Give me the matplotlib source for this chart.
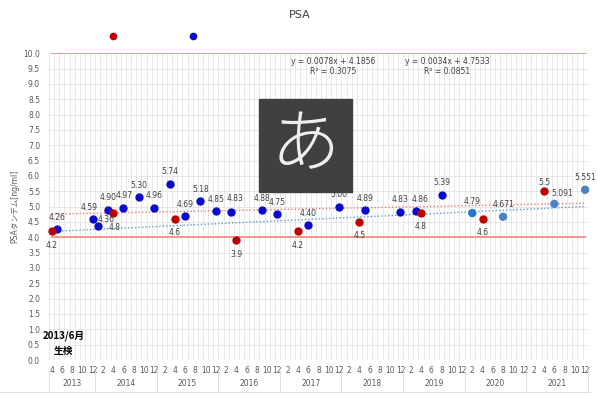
import matplotlib
matplotlib.use("Agg")
import matplotlib.pyplot as plt
import matplotlib.transforms as mtransforms
from matplotlib.patches import Rectangle

plt.rcParams['font.family'] = ['DejaVu Sans', 'Noto Sans CJK JP']

# category axis: one category per month, 2013/4 .. 2021/12
start_year, start_month = 2013, 4
years = list(range(2013, 2022))
n_months = 105

# PSA values (blue = PSA tandem, red = other lab, light blue = recent)
blue_dates = ["2013-05", "2013-12", "2014-01", "2014-03", "2014-06", "2014-09",
              "2014-12", "2015-03", "2015-06", "2015-09", "2015-12", "2016-03",
              "2016-09", "2016-12", "2017-06", "2017-12", "2018-05", "2018-12",
              "2019-03", "2019-08"]
blue_vals = [4.26, 4.59, 4.36, 4.90, 4.97, 5.30, 4.96, 5.74, 4.69, 5.18, 4.85,
             4.83, 4.88, 4.75, 4.40, 5.00, 4.89, 4.83, 4.86, 5.39]

light_dates = ["2020-02", "2020-08", "2021-06", "2021-12"]
light_vals = [4.79, 4.671, 5.091, 5.551]
light_labels = ["4.79", "4.671", "5.091", "5.551"]

red_dates = ["2013-04", "2014-04", "2015-04", "2016-04", "2017-04", "2018-04",
             "2019-04", "2020-04", "2021-04"]
red_vals = [4.2, 4.8, 4.6, 3.9, 4.2, 4.5, 4.8, 4.6, 5.5]

# trendlines as shown on the chart
blue_trend = (0.0078, 4.1856, 0.3075)
red_trend = (0.0034, 4.7533, 0.0851)
ref_lines = [10.0, 4.0]


def idx(d):
    y, m = d.split("-")
    return (int(y) - start_year) * 12 + int(m) - start_month


PX = 0.72  # pixels -> points at dpi 100
W, H = 598, 396

fig = plt.figure(figsize=(W / 100, H / 100), dpi=100)
ax = fig.add_axes([49.1 / W, 1 - 360 / H, 538.6 / W, 306.7 / H])
ax.set_xlim(-0.5, n_months - 0.5)
ax.set_ylim(0, 10)

grid_c = "#DEDEDE"
for i in range(n_months + 1):
    ax.axvline(i - 0.5, color=grid_c, lw=0.5, zorder=0)
for k in range(21):
    ax.axhline(k * 0.5, color=grid_c, lw=0.5, zorder=0)
for s in ax.spines.values():
    s.set_visible(False)

# reference lines at 4.0 and 10.0
for v in ref_lines:
    ax.plot([0, n_months - 1], [v, v], color="#F29690", lw=1.4, zorder=2)

# trendlines (x = category number, 1-based)
xs = [0, n_months - 1]
for (a, b, r2), c in [(blue_trend, "#5B9BD5"), (red_trend, "#F07A7A")]:
    ax.plot(xs, [a * (x + 1) + b for x in xs], color=c, lw=1.0,
            ls=(0, (1, 1.5)), zorder=2)

bx = [idx(d) for d in blue_dates]
rx = [idx(d) for d in red_dates]
lx = [idx(d) for d in light_dates]
ms = 25
ax.scatter(bx, blue_vals, s=ms, color="#0A0ACC", zorder=4, clip_on=False)
ax.scatter(rx, red_vals, s=ms, color="#C00000", zorder=4, clip_on=False)
ax.scatter(lx, light_vals, s=ms, color=["#1F7AD2", "#4C82C6", "#4C82C6", "#4C82C6"],
           zorder=4, clip_on=False)

lab_c = "#404040"
fs = 5.5
blue_off = {1: (-4, 12), 2: (8, 7), 4: (1, 12), 11: (4, 13), 18: (4, 11)}
for i, (x, v) in enumerate(zip(bx, blue_vals)):
    dx, dy = blue_off.get(i, (0, 12))
    ax.annotate(f"{v:.2f}", (x, v), xytext=(dx * PX, dy * PX), textcoords="offset points",
                ha="center", va="center", fontsize=fs, color=lab_c, zorder=5)
red_off = {1: (1, -15), 8: (0, 9)}
for i, (x, v) in enumerate(zip(rx, red_vals)):
    dx, dy = red_off.get(i, (0, -14))
    ax.annotate(f"{v:g}", (x, v), xytext=(dx * PX, dy * PX), textcoords="offset points",
                ha="center", va="center", fontsize=fs, color=lab_c, zorder=5)
for i, (x, v, t) in enumerate(zip(lx, light_vals, light_labels)):
    if i == 2:
        ax.annotate(t, (x, v), xytext=(8 * PX, 10 * PX), textcoords="offset points",
                    ha="center", va="center", fontsize=fs, color=lab_c, zorder=5,
                    arrowprops=dict(arrowstyle="-", color="#A6A6A6", lw=0.5,
                                    shrinkA=3, shrinkB=2))
    else:
        ax.annotate(t, (x, v), xytext=(0, 12 * PX), textcoords="offset points",
                    ha="center", va="center", fontsize=fs, color=lab_c, zorder=5)

# trendline equations
for xc, (a, b, r2) in [(333, blue_trend), (447, red_trend)]:
    fig.text(xc / W, 1 - 62 / H, f"y = {a}x + {b}", ha="center", va="center",
             fontsize=fs, color=lab_c)
    fig.text(xc / W, 1 - 72 / H, f"R² = {r2}", ha="center", va="center",
             fontsize=fs, color=lab_c)

# y axis
ax.set_yticks([k * 0.5 for k in range(21)])
ax.set_yticklabels([f"{k * 0.5:.1f}" for k in range(21)])
ax.tick_params(axis="y", length=0, pad=6.5, labelsize=fs, labelcolor="#595959")

# x axis: month row + year row
month_of = [(start_month - 1 + i) % 12 + 1 for i in range(n_months)]
ticks = [i for i in range(n_months) if month_of[i] % 2 == 0]
ax.set_xticks(ticks)
ax.set_xticklabels([str(month_of[i]) for i in ticks])
ax.tick_params(axis="x", length=0, pad=4, labelsize=fs, labelcolor="#595959")

tr = mtransforms.blended_transform_factory(ax.transData, ax.transAxes)
bounds = [-0.5] + [i + 0.5 for i in range(n_months) if month_of[i] == 12]
for b in bounds:
    ax.plot([b, b], [-11 / 306.7, -32 / 306.7], transform=tr, color=grid_c,
            lw=0.7, clip_on=False)
for y, (l, r) in zip(years, zip(bounds[:-1], bounds[1:])):
    ax.text((l + r) / 2, -23 / 306.7, str(y), transform=tr, ha="center",
            va="center", fontsize=fs, color="#595959")

fig.add_artist(plt.Line2D([0, 590 / W], [1 - 392 / H] * 2, color=grid_c, lw=0.7))

# titles
fig.text(300 / W, 1 - 15 / H, "PSA", ha="center", va="center", fontsize=8, color="#404040")
fig.text(15 / W, 1 - 206 / H, "PSAタンデム[ng/ml]", rotation=90, ha="center",
         va="center", fontsize=fs, color="#595959")

# annotation
fig.text(64 / W, 1 - 336 / H, "2013/6月", ha="center", va="center", fontsize=7,
         fontweight="bold", color="black", family=['Noto Sans CJK JP'])
fig.text(63.5 / W, 1 - 351 / H, "生検", ha="center", va="center", fontsize=7,
         fontweight="bold", color="black", family=['Noto Sans CJK JP'])

# legend markers (labels blank)
fig.add_artist(plt.Line2D([113 / W], [1 - 36 / H], marker="o", ms=4.5,
                          color="#C00000", ls="none"))
fig.add_artist(plt.Line2D([193 / W], [1 - 36 / H], marker="o", ms=4.5,
                          color="#0A0ACC", ls="none"))

# IME indicator overlay
fig.add_artist(Rectangle((259 / W, 1 - 192 / H), 93 / W, 93 / H,
                         transform=fig.transFigure, color="#404040", zorder=10))
fig.text(305.5 / W, 1 - 147 / H, "あ", ha="center", va="center", fontsize=50,
         color="#EEEEEE", zorder=11, family=['Noto Sans CJK JP'], fontweight="light")

fig.savefig("out.png", dpi=100)
